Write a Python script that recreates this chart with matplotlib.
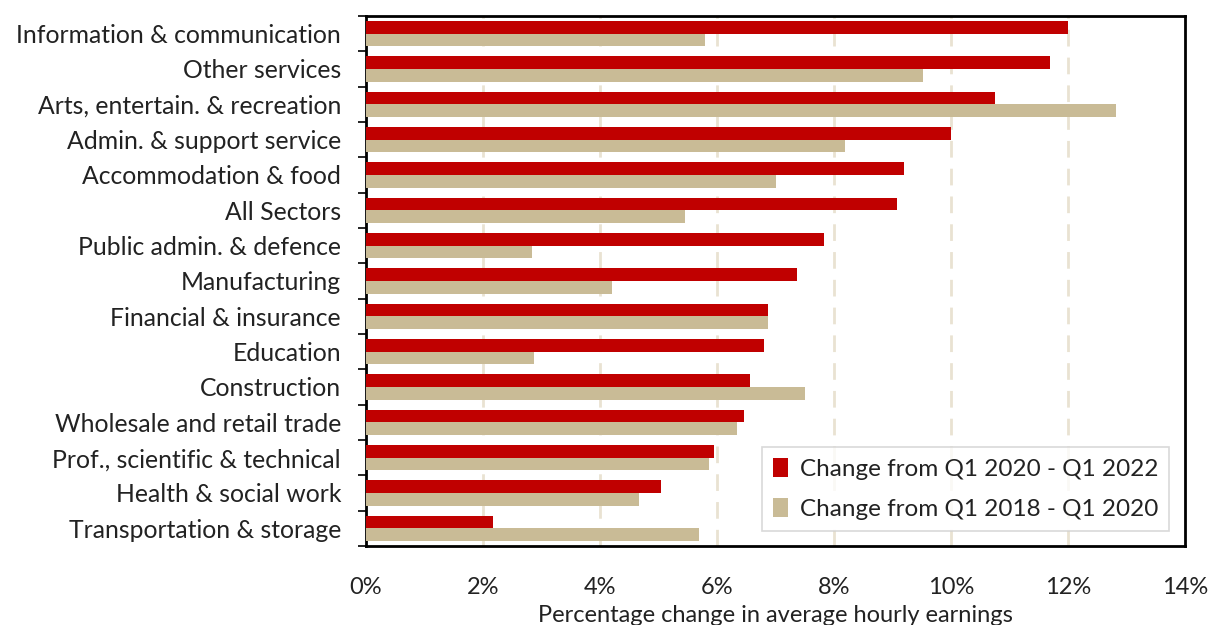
import matplotlib
matplotlib.use("Agg")
import matplotlib.pyplot as plt
import numpy as np
from matplotlib.ticker import FixedLocator, PercentFormatter

# Sectors, top to bottom
sectors = [
    "Information & communication",
    "Other services",
    "Arts, entertain. & recreation",
    "Admin. & support service",
    "Accommodation & food",
    "All Sectors",
    "Public admin. & defence",
    "Manufacturing",
    "Financial & insurance",
    "Education",
    "Construction",
    "Wholesale and retail trade",
    "Prof., scientific & technical",
    "Health & social work",
    "Transportation & storage",
]

# Percentage change in average hourly earnings
change_2020_2022 = [12.0, 11.7, 10.75, 10.0, 9.2, 9.08, 7.83, 7.36, 6.88, 6.8, 6.57, 6.47, 5.95, 5.04, 2.17]
change_2018_2020 = [5.79, 9.52, 12.82, 8.19, 7.0, 5.46, 2.84, 4.21, 6.88, 2.87, 7.5, 6.35, 5.86, 4.67, 5.7]

series_labels = ["Change from Q1 2020 - Q1 2022", "Change from Q1 2018 - Q1 2020"]
x_ticks = [0, 2, 4, 6, 8, 10, 12, 14]

RED = "#C00000"
TAN = "#C9BB96"
GRID = "#E9E2D2"
TEXT = "#222222"

plt.rcParams["font.family"] = ["Lato", "DejaVu Sans"]

fig = plt.figure(figsize=(12.09, 6.25), dpi=100)
ax = fig.add_axes([366 / 1209, 1 - 546 / 625, (1185 - 366) / 1209, (546 - 16) / 625])

n = len(sectors)
y = np.arange(n)
h = 0.36
ax.barh(y - h / 2, change_2020_2022, height=h, color=RED, label=series_labels[0], zorder=3)
ax.barh(y + h / 2, change_2018_2020, height=h, color=TAN, label=series_labels[1], zorder=3)

ax.set_ylim(n - 0.5, -0.5)
ax.set_xlim(0, 14)

# Category labels at centres, tick marks at boundaries
ax.set_yticks(y)
ax.set_yticklabels(sectors, fontsize=17.8, color=TEXT)
ax.tick_params(axis="y", which="major", length=0, pad=18)
ax.yaxis.set_minor_locator(FixedLocator(np.arange(-0.5, n, 1.0)))
ax.tick_params(axis="y", which="minor", length=6, width=1.2, color="black", direction="out")

ax.set_xticks(x_ticks)
ax.xaxis.set_major_formatter(PercentFormatter(decimals=0))
ax.tick_params(axis="x", length=0, pad=22, labelsize=17, labelcolor=TEXT)
ax.set_xlabel("Percentage change in average hourly earnings", fontsize=17, color=TEXT, labelpad=5)

for v in x_ticks[1:-1]:
    ax.axvline(v, color=GRID, lw=2, ls=(0, (6, 4)), zorder=1)

for s in ax.spines.values():
    s.set_color("black")
    s.set_linewidth(2)

leg = ax.legend(loc="lower right", bbox_to_anchor=(0.987, 0.019), fontsize=17.5,
                frameon=True, fancybox=False, edgecolor="#D0D0D0",
                handlelength=0.6, handleheight=0.8, handletextpad=0.5,
                borderpad=0.45, labelspacing=0.75, borderaxespad=0.2)
leg.get_frame().set_linewidth(1.2)
for t in leg.get_texts():
    t.set_color(TEXT)

fig.savefig("out.png", dpi=100)
